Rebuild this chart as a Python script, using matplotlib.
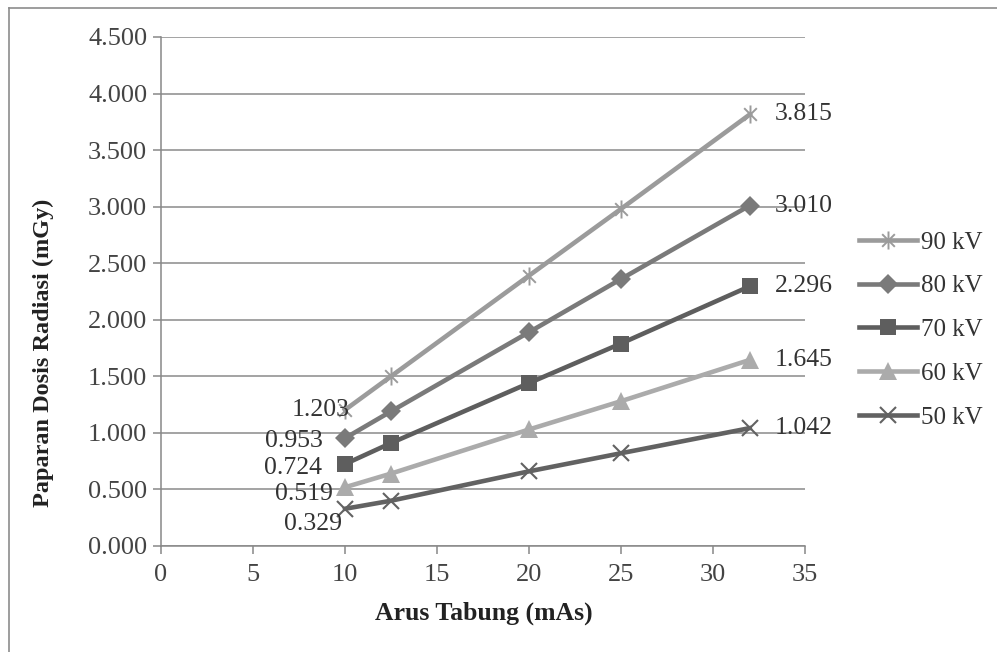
import matplotlib
matplotlib.use("Agg")
import matplotlib.pyplot as plt
from matplotlib.lines import Line2D
from matplotlib.path import Path

plt.rcParams["font.family"] = ["Liberation Serif", "DejaVu Serif"]

# data
arus = [10, 12.5, 20, 25, 32]
series_names = ["90 kV", "80 kV", "70 kV", "60 kV", "50 kV"]
dosis_90 = [1.203, 1.50, 2.39, 2.98, 3.815]
dosis_80 = [0.953, 1.19, 1.89, 2.36, 3.010]
dosis_70 = [0.724, 0.91, 1.44, 1.79, 2.296]
dosis_60 = [0.519, 0.64, 1.03, 1.28, 1.645]
dosis_50 = [0.329, 0.40, 0.66, 0.82, 1.042]
y_ticks = [0.0, 0.5, 1.0, 1.5, 2.0, 2.5, 3.0, 3.5, 4.0, 4.5]
x_ticks = [0, 5, 10, 15, 20, 25, 30, 35]

# excel-like star marker: X with a vertical bar
star = Path([(-0.7, -0.7), (0.7, 0.7), (-0.7, 0.7), (0.7, -0.7), (0, -1), (0, 1)],
            [Path.MOVETO, Path.LINETO, Path.MOVETO, Path.LINETO, Path.MOVETO, Path.LINETO])

styles = [
    dict(color="#9b9b9b", marker=star, ms=13, mew=1.4),
    dict(color="#7a7a7a", marker="D", ms=10, mew=0),
    dict(color="#5e5e5e", marker="s", ms=12, mew=0),
    dict(color="#ababab", marker="^", ms=13, mew=0),
    dict(color="#626262", marker="x", ms=12, mew=1.5),
]
# label offsets in pixels for the first point (placed on the left side)
left_off = [(5, 0), (-22, -3), (-23, -4), (-12, -7), (-3, -15)]

fig = plt.figure(figsize=(9.97, 6.52), dpi=100)
ax = fig.add_axes([0.1615, 0.1626, 0.8074 - 0.1615, 0.9433 - 0.1626])

all_series = [dosis_90, dosis_80, dosis_70, dosis_60, dosis_50]
for name, vals, st, loff in zip(series_names, all_series, styles, left_off):
    ax.plot(arus, vals, lw=3.3, label=name, color=st["color"], marker=st["marker"],
            ms=st["ms"], mew=st["mew"], mec=st["color"], mfc=st["color"], zorder=3)
    ax.annotate(f"{vals[0]:.3f}", (arus[0], vals[0]), xytext=(loff[0] * 0.72, loff[1] * 0.72),
                textcoords="offset points", ha="right", va="center", fontsize=18.5,
                color="#333333", zorder=4)
    ax.annotate(f"{vals[-1]:.3f}", (arus[-1], vals[-1]), xytext=(18, 0),
                textcoords="offset points", ha="left", va="center", fontsize=18.5,
                color="#333333", zorder=4)

ax.set_xlim(0, 35)
ax.set_ylim(0, 4.5)
ax.set_xticks(x_ticks)
ax.set_yticks(y_ticks)
ax.set_yticklabels([f"{v:.3f}" for v in y_ticks])
ax.tick_params(axis="both", labelsize=19, colors="#888888", labelcolor="#444444",
               length=6, width=1.1, direction="out")
ax.tick_params(axis="x", pad=7)
ax.tick_params(axis="y", pad=4)
ax.grid(axis="y", color="#8a8a8a", lw=1.1)
ax.set_axisbelow(True)
for side in ["top", "right"]:
    ax.spines[side].set_visible(False)
for side in ["left", "bottom"]:
    ax.spines[side].set_color("#888888")
    ax.spines[side].set_linewidth(1.1)

ax.set_xlabel("Arus Tabung (mAs)", fontsize=18.5, fontweight="bold", color="#222222")
ax.xaxis.set_label_coords(0.502, -0.11)
ax.set_ylabel("Paparan Dosis Radiasi (mGy)", fontsize=17.5, fontweight="bold", color="#222222",
              va="center")
ax.yaxis.set_label_coords(-0.182, 0.379)

leg = ax.legend(loc="center left", bbox_to_anchor=(0.852, 0.494), bbox_transform=fig.transFigure,
                frameon=False, fontsize=18, handlelength=2.3, handletextpad=0.15,
                labelspacing=0.85, borderaxespad=0)
for t in leg.get_texts():
    t.set_color("#333333")

# outer chart frame (cropped on the right and bottom)
fig.add_artist(Line2D([9 / 997, 9 / 997], [0, 1 - 8 / 652], transform=fig.transFigure,
                      color="#8c8c8c", lw=1.2))
fig.add_artist(Line2D([9 / 997, 1], [1 - 8 / 652, 1 - 8 / 652], transform=fig.transFigure,
                      color="#8c8c8c", lw=1.2))

fig.savefig("out.png", dpi=100)
